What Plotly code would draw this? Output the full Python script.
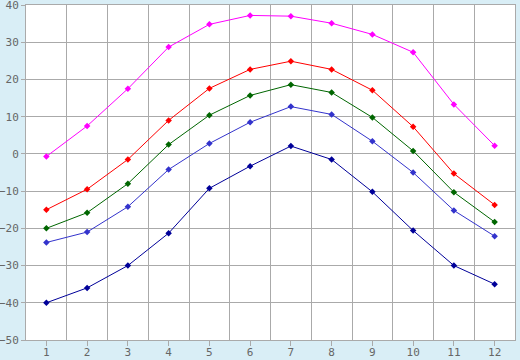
import plotly.graph_objects as go

months = [1, 2, 3, 4, 5, 6, 7, 8, 9, 10, 11, 12]
s_magenta = [-0.7, 7.5, 17.5, 28.7, 34.8, 37.2, 37.0, 35.1, 32.1, 27.3, 13.3, 2.2]
s_red = [-15.0, -9.5, -1.5, 9.0, 17.6, 22.7, 24.9, 22.7, 17.1, 7.3, -5.3, -13.7]
s_green = [-20.0, -15.8, -8.0, 2.5, 10.4, 15.7, 18.6, 16.5, 9.8, 0.8, -10.3, -18.3]
s_blue = [-23.8, -21.0, -14.2, -4.2, 2.8, 8.5, 12.7, 10.6, 3.4, -5.0, -15.2, -22.1]
s_dark = [-40.0, -36.0, -30.0, -21.3, -9.25, -3.3, 2.1, -1.5, -10.2, -20.6, -30.0, -35.0]

series = [
    (s_magenta, "#ff00ff"),
    (s_red, "#ff0000"),
    (s_green, "#006600"),
    (s_blue, "#3333cc"),
    (s_dark, "#000099"),
]

fig = go.Figure()
for vals, col in series:
    fig.add_trace(go.Scatter(
        x=months, y=vals, mode="lines+markers",
        line=dict(color=col, width=1),
        marker=dict(symbol="diamond", size=5, color=col),
        showlegend=False,
    ))

grid = "#aaaaaa"
fig.update_layout(
    width=520, height=360,
    margin=dict(l=26, r=5, t=5, b=20),
    paper_bgcolor="#d9eef6",
    plot_bgcolor="#ffffff",
    font=dict(family="DejaVu Sans Mono", size=11, color="#666666"),
    xaxis=dict(
        range=[0.5, 12.5], tickmode="array", tickvals=months,
        ticktext=[str(m) for m in months],
        showgrid=False, zeroline=False, automargin=False,
        ticks="outside", ticklen=5, tickcolor=grid,
        ticklabelstandoff=-3, ticklabeloverflow="allow",
        showline=True, mirror=True, linecolor=grid, linewidth=1,
        minor=dict(tick0=0.5, dtick=1, showgrid=True, gridcolor=grid, gridwidth=1, ticks=""),
        fixedrange=True,
    ),
    yaxis=dict(
        range=[-50, 40], tickmode="linear", tick0=-50, dtick=10,
        showgrid=True, gridcolor=grid, gridwidth=1, zeroline=False, automargin=False,
        ticks="outside", ticklen=4, tickcolor=grid, ticklabeloverflow="allow",
        showline=True, mirror=True, linecolor=grid, linewidth=1,
        fixedrange=True,
    ),
)

fig.write_html("out.html")
